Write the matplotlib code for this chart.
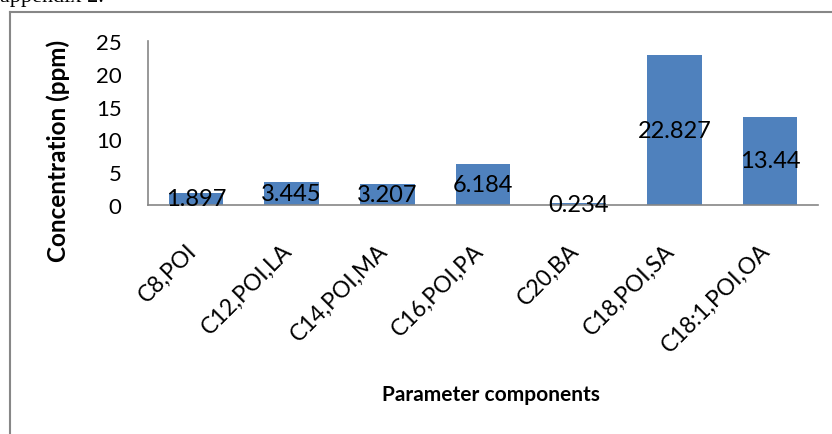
import matplotlib

matplotlib.use("Agg")
import matplotlib.pyplot as plt
import matplotlib.transforms as mtransforms
from matplotlib.lines import Line2D

categories = ["C8,POI", "C12,POI,LA", "C14,POI,MA", "C16,POI,PA",
              "C20,BA", "C18,POI,SA", "C18:1,POI,OA"]
concentration = [1.897, 3.445, 3.207, 6.184, 0.234, 22.827, 13.44]
value_labels = ["1.897", "3.445", "3.207", "6.184", "0.234", "22.827", "13.44"]
y_ticks = [0, 5, 10, 15, 20, 25]

plt.rcParams["font.family"] = ["Lato", "DejaVu Sans"]

W, H = 832, 435
fig = plt.figure(figsize=(W / 100, H / 100), dpi=100)
ax = fig.add_axes([148 / W, 1 - 206 / H, (818 - 148) / W, (206 - 42) / H])

xs = range(len(categories))
bars = ax.bar(xs, concentration, width=0.57, color="#4F81BD", zorder=2)
for b, lab in zip(bars, value_labels):
    ax.text(b.get_x() + b.get_width() / 2, b.get_height() / 2, lab,
            ha="center", va="center", fontsize=17, color="black", zorder=3)

ax.set_xlim(-0.5, len(categories) - 0.5)
ax.set_ylim(0, 25)
ax.set_yticks(y_ticks)
ax.set_xticks(list(xs))
ax.set_xticklabels(categories, rotation=45, ha="right", va="center",
                   rotation_mode="anchor", fontsize=16.5)
ax.tick_params(axis="y", length=0, pad=19, labelsize=16)
ax.tick_params(axis="x", length=0, pad=30)

# small nudge left so the label ends sit like the reference
shift = mtransforms.ScaledTranslation(-3 / 100, 0, fig.dpi_scale_trans)
for lbl in ax.get_xticklabels():
    lbl.set_transform(lbl.get_transform() + shift)

for s in ["top", "right"]:
    ax.spines[s].set_visible(False)
for s in ["left", "bottom"]:
    ax.spines[s].set_color("#868686")
    ax.spines[s].set_linewidth(1.2)

fig.text(58 / W, 1 - 151 / H, "Concentration (ppm)", rotation=90,
         ha="center", va="center", fontsize=17.5, fontweight="bold")
fig.text(491 / W, 1 - 395 / H, "Parameter components",
         ha="center", va="center", fontsize=15, fontweight="bold")

# chart frame (left and top edges visible)
fig.add_artist(Line2D([10 / W, 10 / W], [0, 1 - 12.5 / H],
                      transform=fig.transFigure, color="#878787", lw=1.5))
fig.add_artist(Line2D([10 / W, 1], [1 - 12.5 / H, 1 - 12.5 / H],
                      transform=fig.transFigure, color="#878787", lw=1.5))

# cut-off caption from the page above
fig.text(0, 1 - 2 / H, "appendix 2.", family="Liberation Serif",
         fontsize=16, ha="left", va="baseline")

fig.savefig("out.png", dpi=100)
